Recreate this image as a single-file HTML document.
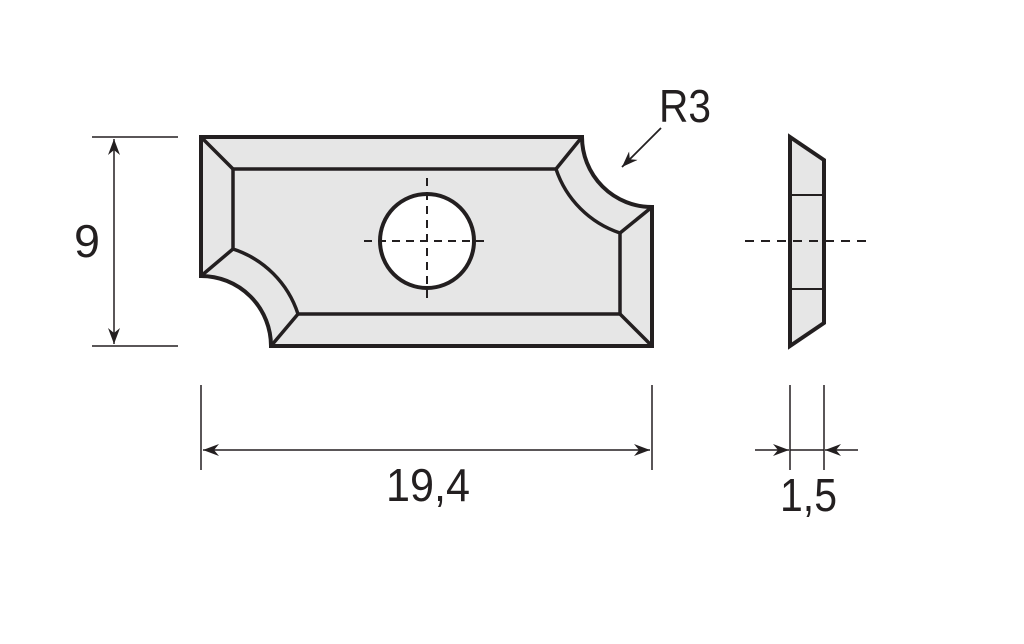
<!DOCTYPE html>
<html><head><meta charset="utf-8"><style>html,body{margin:0;padding:0;background:#fff}svg{display:block}</style></head>
<body>
<svg width="1024" height="644" viewBox="0 0 1024 644" xmlns="http://www.w3.org/2000/svg" font-family="Liberation Sans, sans-serif">
<defs>
<marker id="a" viewBox="0 0 16 12" refX="16" refY="6" markerWidth="16" markerHeight="12" markerUnits="userSpaceOnUse" orient="auto-start-reverse"><path d="M0,0 L16,6 L0,12 L5,6 Z" fill="#231f20"/></marker>
</defs>
<g stroke="#231f20" fill="none">
<path d="M201,137 L582,137 A70,70 0 0 0 652,207 L652,346 L271,346 A70,70 0 0 0 201,276 Z" fill="#e6e6e6" stroke-width="4"/>
<path d="M233,169 L556,169 A101,101 0 0 0 620,233 L620,314 L298,314 A101,101 0 0 0 233,249 Z" stroke-width="3.5"/>
<path d="M201,137 L233,169 M582,137 L556,169 M652,207 L620,233 M652,346 L620,314 M271,346 L298,314 M201,276 L233,249" stroke-width="3.5"/>
<circle cx="427" cy="241" r="47" fill="#fff" stroke-width="4"/>
<path d="M364,241 H490 M427,178 V304" stroke-width="2" stroke-dasharray="8,6"/>
<path d="M790,137 L824,160 L824,323 L790,346 Z" fill="#e6e6e6" stroke-width="4"/>
<path d="M790,195 H824 M790,289 H824" stroke-width="2"/>
<path d="M745,241 H872" stroke-width="2" stroke-dasharray="9,7"/>
<path d="M92,137 H178 M92,346 H178" stroke-width="1.5"/>
<path d="M114,139 V344" stroke-width="1.5" marker-start="url(#a)" marker-end="url(#a)"/>
<path d="M201,385 V470 M652,385 V470" stroke-width="1.5"/>
<path d="M203,450 H650" stroke-width="1.5" marker-start="url(#a)" marker-end="url(#a)"/>
<path d="M790,385 V470 M824,385 V470" stroke-width="1.5"/>
<path d="M755,450 H789" stroke-width="1.5" marker-end="url(#a)"/>
<path d="M858,450 H825" stroke-width="1.5" marker-end="url(#a)"/>
<path d="M790,450 H824" stroke-width="1.5"/>
<path d="M661,128 L622,167" stroke-width="1.8" marker-end="url(#a)"/>
</g>
<g fill="#231f20" font-size="46">
<text x="74" y="257" textLength="26" lengthAdjust="spacingAndGlyphs">9</text>
<text x="386" y="501" textLength="84" lengthAdjust="spacingAndGlyphs">19,4</text>
<text x="780" y="511" textLength="57" lengthAdjust="spacingAndGlyphs">1,5</text>
<text x="659" y="122" textLength="52" lengthAdjust="spacingAndGlyphs">R3</text>
</g>
</svg>
</body></html>
